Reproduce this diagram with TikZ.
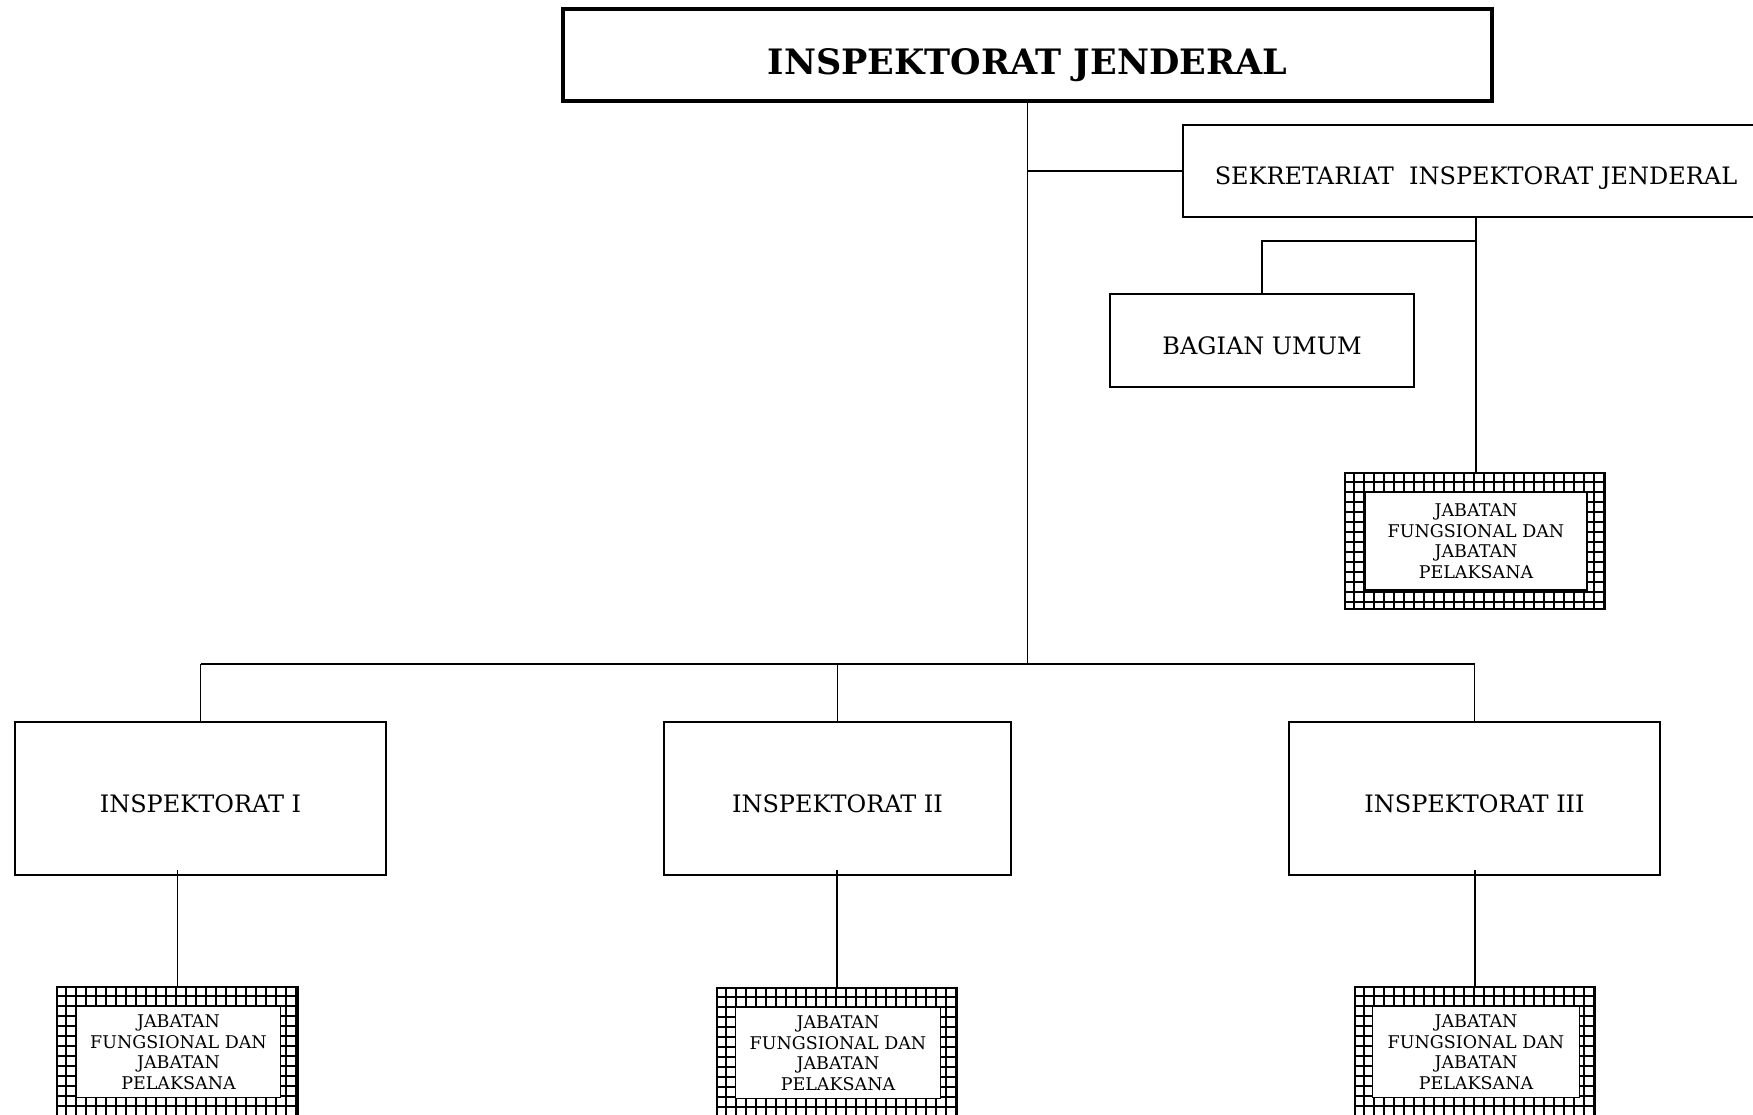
\documentclass[tikz,border=0pt]{standalone}
\usepackage{fontspec}
\setmainfont{DejaVu Serif}
\usetikzlibrary{calc}
\tikzset{
  box/.style={draw=black, line width=1.3pt, fill=white, inner sep=0pt, align=center, font=\fontsize{24}{28}\selectfont, text height=27.5pt, text depth=0pt},
  topbox/.style={draw=black, line width=3.2pt, fill=white, inner sep=0pt, align=center, font=\fontsize{35}{40}\selectfont\bfseries, text height=38.5pt, text depth=0pt},
  outerbox/.style={draw=black, line width=2pt, inner sep=0pt},
  innerbox/.style={draw=black, line width=1.6pt, fill=white, inner sep=0pt, align=center, font=\fontsize{17.5}{20.5}\selectfont},
  gridline/.style={line width=1.3pt, black},
  conn/.style={line width=1.4pt, black},
}
\newcommand\jabbox[7]{% name, cx, cy, w, h, inner w, inner h
  \node[outerbox, minimum width=#4pt, minimum height=#5pt] (#1) at (#2,#3) {};
  \begin{scope}
    \clip (#1.north west) rectangle (#1.south east);
    \foreach \k in {0,...,30} {
      \draw[gridline] ([xshift=\k*10pt]#1.north west) -- ([xshift=\k*10pt]#1.south west);
      \draw[gridline] ([yshift=-\k*10pt]#1.north west) -- ([yshift=-\k*10pt]#1.north east);
    }
  \end{scope}
  \node[outerbox, minimum width=#4pt, minimum height=#5pt] at (#1) {};
  \node[innerbox, minimum width=#6pt, minimum height=#7pt] (#1i) at ($(#1)+(1,0)$) {JABATAN\\FUNGSIONAL DAN\\JABATAN\\PELAKSANA};
}
\begin{document}
\begin{tikzpicture}[x=1pt, y=-1pt]
\useasboundingbox (0,0) rectangle (1753,1114);
\clip (0,0) rectangle (1753,1114);
\fill[white] (0,0) rectangle (1753,1114);

\node[topbox, minimum width=929pt, minimum height=92pt] (ij) at (1027.5,55) {INSPEKTORAT JENDERAL};
\node[box, minimum width=586pt, minimum height=92pt] (sek) at (1476,171) {SEKRETARIAT\ \ INSPEKTORAT JENDERAL};
\node[box, minimum width=304pt, minimum height=93pt] (bu) at (1262,340.5) {BAGIAN UMUM};
\jabbox{j0}{1475}{541}{260}{136}{222}{98}

\node[box, minimum width=371pt, minimum height=153pt] (i1) at (200.5,798.5) {INSPEKTORAT I};
\node[box, minimum width=347pt, minimum height=153pt] (i2) at (837.5,798.5) {INSPEKTORAT II};
\node[box, minimum width=371pt, minimum height=153pt] (i3) at (1474.5,798.5) {INSPEKTORAT III};

\jabbox{j1}{177.5}{1052}{241}{130}{204}{91}
\jabbox{j2}{837}{1053}{240}{130}{205}{91}
\jabbox{j3}{1475}{1052}{240}{130}{207}{91}

\coordinate (bus) at (1026,664);
\coordinate (br) at (1476,241);

% main trunk
\draw[conn] (ij.south) -- (ij.south |- bus);
\draw[conn] (ij.south |- sek.west) -- (sek.west);
\draw[conn] (bus -| i1.north) -- (bus -| i3.north);
\draw[conn] (i1.north) -- (i1.north |- bus);
\draw[conn] (i2.north) -- (i2.north |- bus);
\draw[conn] (i3.north) -- (i3.north |- bus);

% sekretariat
\draw[line width=2pt] (sek.south) -- (sek.south |- br);
\draw[conn] (sek.south |- br) -- (sek.south |- j0.north);
\draw[conn] (sek.south |- br) -- (br -| bu.north) -- (bu.north);

% inspektorat to jabatan
\draw[conn] (j1.north) -- ([yshift=6pt]j1.north |- i1.south);
\draw[conn] (j2.north) -- ([yshift=6pt]j2.north |- i2.south);
\draw[conn] (j3.north) -- ([yshift=6pt]j3.north |- i3.south);
\end{tikzpicture}
\end{document}
